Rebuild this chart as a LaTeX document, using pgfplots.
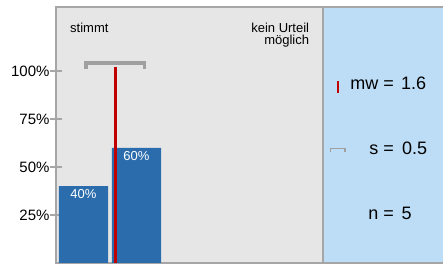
\documentclass[border=0pt]{standalone}
\usepackage{fontspec}
\setmainfont{Liberation Sans}
\usepackage{pgfplots}
\pgfplotsset{compat=1.18}
\definecolor{bggray}{HTML}{E6E6E6}
\definecolor{axisgray}{HTML}{A6A6A6}
\definecolor{barblue}{HTML}{2B6DAC}
\definecolor{panelblue}{HTML}{BDDDF6}
\definecolor{meanred}{HTML}{C00000}
\definecolor{errgray}{HTML}{A0A0A0}
\begin{document}
\begin{tikzpicture}
\useasboundingbox (0pt,0pt) rectangle (443pt,264pt);
\fill[panelblue] (323pt,1pt) rectangle (443pt,257pt);
\begin{axis}[
  at={(56pt,1pt)}, anchor=south west,
  scale only axis, width=267pt, height=256pt,
  xmin=0.481, xmax=5.519, ymin=0, ymax=133.33,
  axis background/.style={fill=bggray},
  axis line style={axisgray, line width=1.5pt},
  xtick=\empty,
  ytick={25,50,75,100},
  yticklabels={25\%,50\%,75\%,100\%},
  ytick pos=left,
  tick align=center,
  major tick length=12pt,
  ytick style={axisgray, line width=1.3pt},
  yticklabel style={font=\fontsize{15}{18}\selectfont, xshift=3pt},
  /pgf/number format/assume math mode=true,
  clip=false,
]
\addplot[ybar, bar shift=0pt, bar width=0.925, fill=barblue, draw=none,
  nodes near coords={\pgfmathprintnumber{\pgfplotspointmeta}\%},
  every node near coord/.append style={anchor=north, text=white, font=\fontsize{13}{15}\selectfont}]
  coordinates {(1,40) (2,60)};
\addplot[meanred, line width=3.5pt, line cap=butt, mark=none] coordinates {(1.6,0) (1.6,102.1)};
\addplot[errgray, line width=3.8pt, line cap=butt, line join=miter, mark=none]
  coordinates {(1.048,101.0) (1.048,104.3) (2.152,104.3) (2.152,101.0)};
\end{axis}
\draw[axisgray, line width=1.5pt] (323pt,257pt) -- (443pt,257pt);
\draw[axisgray, line width=1.5pt] (323pt,1pt) -- (443pt,1pt);
\node[anchor=base west, inner sep=0pt, font=\fontsize{13}{15}\selectfont] at (70pt,231.3pt) {stimmt};
\node[anchor=base east, inner sep=0pt, font=\fontsize{13}{15}\selectfont] at (309.3pt,231.2pt) {kein Urteil};
\node[anchor=base east, inner sep=0pt, font=\fontsize{13}{15}\selectfont] at (309.3pt,219.2pt) {möglich};
\draw[meanred, line width=2.2pt] (338.3pt,171pt) -- (338.3pt,183pt);
\draw[errgray, line width=1.5pt] (330.7pt,111.5pt) -- (330.7pt,115.5pt) -- (345pt,115.5pt) -- (345pt,111.5pt);
\node[anchor=base east, inner sep=0pt, font=\fontsize{18}{21}\selectfont] at (394pt,174pt) {mw =};
\node[anchor=base west, inner sep=0pt, font=\fontsize{18}{21}\selectfont] at (401pt,174pt) {1.6};
\node[anchor=base east, inner sep=0pt, font=\fontsize{18}{21}\selectfont] at (394pt,109.3pt) {s =};
\node[anchor=base west, inner sep=0pt, font=\fontsize{18}{21}\selectfont] at (401.8pt,109.3pt) {0.5};
\node[anchor=base east, inner sep=0pt, font=\fontsize{18}{21}\selectfont] at (394pt,44.7pt) {n =};
\node[anchor=base west, inner sep=0pt, font=\fontsize{18}{21}\selectfont] at (401.5pt,44.7pt) {5};
\end{tikzpicture}
\end{document}
